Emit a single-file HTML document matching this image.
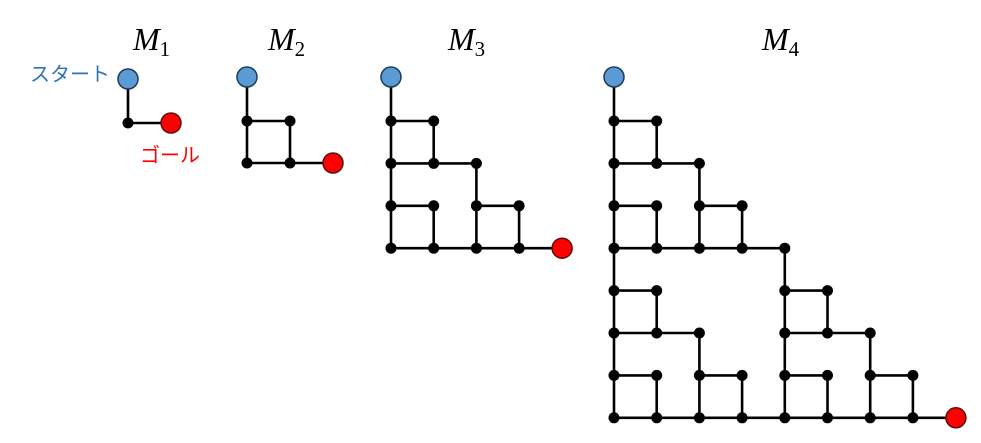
<!DOCTYPE html>
<html><head><meta charset="utf-8">
<style>
html,body{margin:0;padding:0;background:#fff;}
svg{display:block;}
.t{font-family:"Liberation Serif",serif;font-style:italic;font-size:32px;}
.s{font-family:"Liberation Serif",serif;font-style:normal;font-size:21px;}
.j{font-family:"Liberation Sans","Noto Sans CJK JP",sans-serif;font-size:20px;}
</style></head>
<body>
<svg id="g" width="981" height="443" viewBox="0 0 981 443" xmlns="http://www.w3.org/2000/svg">
<text class="t" x="133" y="50">M<tspan class="s" dy="6">1</tspan></text>
<text class="t" x="268" y="50">M<tspan class="s" dy="6">2</tspan></text>
<text class="t" x="448" y="50">M<tspan class="s" dy="6">3</tspan></text>
<text class="t" x="762" y="50">M<tspan class="s" dy="6">4</tspan></text>
<text class="j" x="30" y="81" fill="#2E75B6">スタート</text>
<text class="j" x="140" y="162" fill="#FF0000">ゴール</text>
</svg>
<script>
(function(){
var svg=document.getElementById('g'),NS='http://www.w3.org/2000/svg';
function el(n,a){var e=document.createElementNS(NS,n);for(var k in a)e.setAttribute(k,a[k]);svg.appendChild(e);return e;}
function T(k,c,r,E){
 if(k===0)return;
 if(k===1){E.push([c,r,c+1,r],[c,r+1,c+1,r+1],[c,r,c,r+1],[c+1,r,c+1,r+1]);return;}
 var h=1<<(k-1);
 T(k-1,c,r,E);T(k-1,c,r+h,E);T(k-1,c+h,r+h,E);
 E.push([c+h-1,r+h-1,c+h,r+h-1],[c+h,r+h-1,c+h,r+h],[c,r+h-1,c,r+h],[c+h-1,r+2*h-1,c+h,r+2*h-1]);
}
function draw(k,x0,y0,sx,sy){
 var E=[];T(k,0,0,E);var n=1<<k;var last=n-1;
 var X=function(c){return x0+c*sx},Y=function(r){return y0+r*sy};
 var pts={};
 // start & goal lines
 el('line',{x1:X(0),y1:Y(0)-44,x2:X(0),y2:Y(0),stroke:'#000','stroke-width':2.6});
 el('line',{x1:X(last),y1:Y(last),x2:X(last)+43,y2:Y(last),stroke:'#000','stroke-width':2.6});
 E.forEach(function(e){
  el('line',{x1:X(e[0]),y1:Y(e[1]),x2:X(e[2]),y2:Y(e[3]),stroke:'#000','stroke-width':2.6});
  pts[e[0]+','+e[1]]=1;pts[e[2]+','+e[3]]=1;
 });
 pts['0,0']=1;pts[last+','+last]=1;
 for(var p in pts){var q=p.split(',');el('circle',{cx:X(+q[0]),cy:Y(+q[1]),r:5.5,fill:'#000'});}
 el('circle',{cx:X(0),cy:Y(0)-44,r:10,fill:'#5B9BD5',stroke:'#1F3A5A','stroke-width':1.5});
 el('circle',{cx:X(last)+43,cy:Y(last),r:10,fill:'#FF0000',stroke:'#5A1010','stroke-width':1.5});
}
draw(0,128,123,42.5,42.5);
draw(1,247,121,43,42);
draw(2,391,121,42.7,42.4);
draw(3,614,121,42.7,42.4);
})();
</script>
</body></html>
